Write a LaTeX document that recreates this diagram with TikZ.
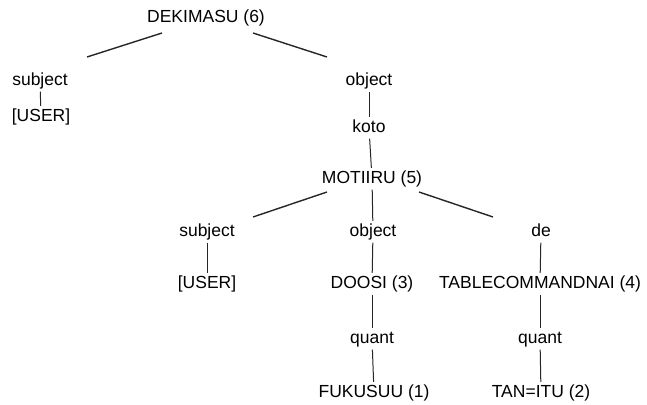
\documentclass[tikz,border=0pt]{standalone}
\usepackage{fontspec}
\setmainfont{Liberation Sans}
\usetikzlibrary{calc}
\begin{document}
\begin{tikzpicture}[x=1pt,y=-1pt,
  lbl/.style={inner xsep=1pt,inner ysep=2.5pt,text height=12.5pt,text depth=4pt,
    font=\fontsize{17.5}{20}\selectfont,anchor=base},
  edge/.style={line width=1.4pt,black!85},
  stem/.style={line width=1pt,black!85}]
\useasboundingbox (0,0) rectangle (647,404);
% top level (node positions are baselines)
\node[lbl] (dek)   at (206,23)  {DEKIMASU (6)};
\node[lbl] (subjA) at (40,85)   {subject};
\node[lbl] (objA)  at (369,85)  {object};
\node[lbl] (userA) at (41,121)  {[USER]};
\node[lbl] (koto)  at (369,132) {koto};
% embedded clause
\node[lbl] (moti)  at (372,183) {MOTIIRU (5)};
\node[lbl] (subjB) at (207,236) {subject};
\node[lbl] (objB)  at (373,236) {object};
\node[lbl] (de)    at (541,236) {de};
\node[lbl] (userB) at (207,288) {[USER]};
\node[lbl] (doosi) at (372,288) {DOOSI (3)};
\node[lbl] (table) at (540,288) {TABLECOMMANDNAI (4)};
\node[lbl] (quA)   at (372,343) {quant};
\node[lbl] (quB)   at (540,343) {quant};
\node[lbl] (fuku)  at (374,397) {FUKUSUU (1)};
\node[lbl] (tan)   at (541,397) {TAN=ITU (2)};
% branches
\draw[edge] ($(dek.base)+(-44,10)$) -- ($(subjA.base)+(47,-28)$);
\draw[edge] ($(dek.base)+(47,10)$) -- ($(objA.base)+(-42,-28)$);
\draw[stem] (subjA) -- (userA);
\draw[stem] (objA) -- (koto);
\draw[stem] (koto) -- (moti);
\draw[edge] ($(moti.base)+(-45,9)$) -- ($(subjB.base)+(46,-19)$);
\draw[stem] (moti) -- (objB);
\draw[edge] ($(moti.base)+(47,9)$) -- ($(de.base)+(-48,-19)$);
\draw[stem] (subjB) -- (userB);
\draw[stem] (objB) -- (doosi);
\draw[stem] (de) -- (table);
\draw[stem] (doosi) -- (quA);
\draw[stem] (table) -- (quB);
\draw[stem] (quA) -- (fuku);
\draw[stem] (quB) -- (tan);
\end{tikzpicture}
\end{document}
